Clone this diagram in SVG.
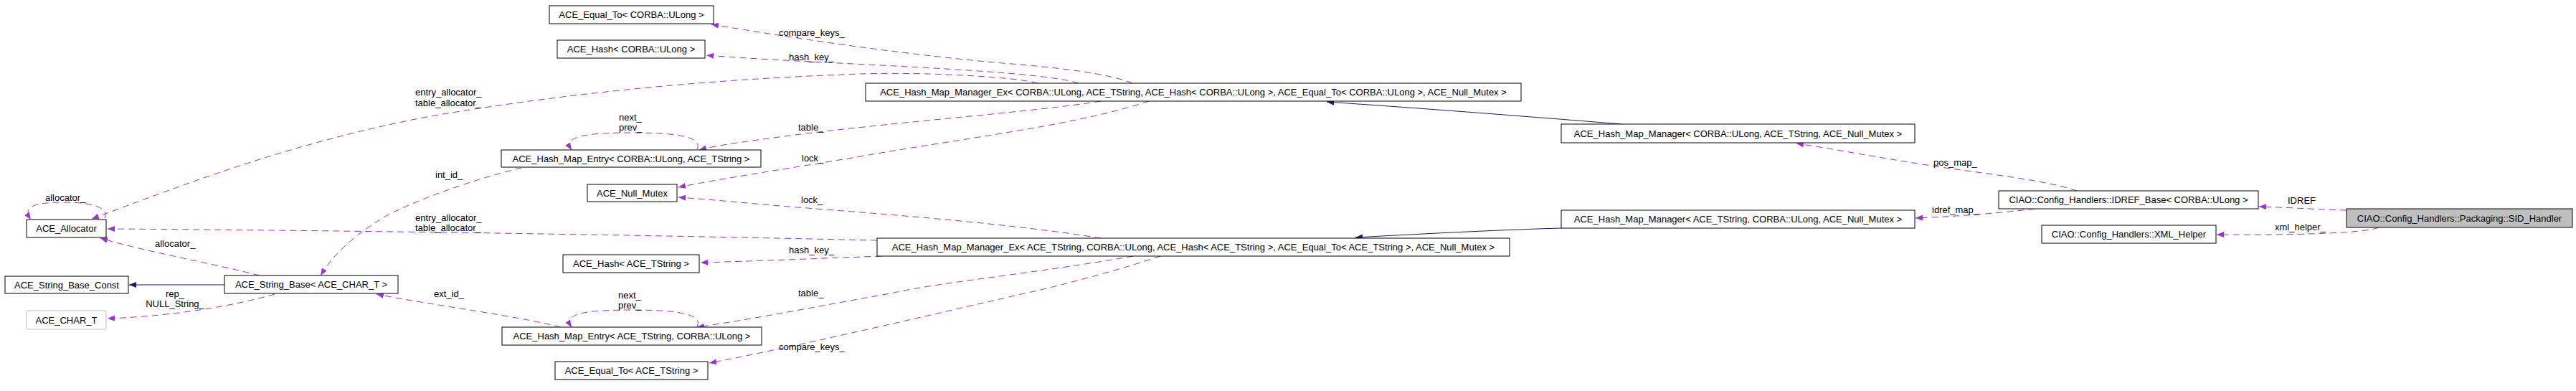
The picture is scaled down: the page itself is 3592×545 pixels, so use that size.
<svg xmlns="http://www.w3.org/2000/svg" width="3592" height="545" viewBox="0 0 3592 545">
<defs>
<style>
.n rect{fill:#fff;stroke:#000;stroke-width:1}
.n.gr rect{stroke:#bfbfbf}
.n.sel rect{fill:#bfbfbf}
text{font-family:"Liberation Sans",Arial,sans-serif;font-size:13px;fill:#000}
.n text{text-anchor:middle}
.e{fill:none;stroke:#9a32cd;stroke-width:1;stroke-dasharray:9,6;marker-end:url(#ap)}
.g{fill:none;stroke:#191970;stroke-width:1;marker-end:url(#an)}
</style>
<marker id="ap" markerWidth="12" markerHeight="10" refX="10" refY="4" orient="auto" markerUnits="userSpaceOnUse"><path d="M0,0 L10,4 L0,8 z" fill="#9a32cd"/></marker>
<marker id="an" markerWidth="12" markerHeight="10" refX="10" refY="4" orient="auto" markerUnits="userSpaceOnUse"><path d="M0,0 L10,4 L0,8 z" fill="#191970"/></marker>
</defs>
<rect width="3592" height="545" fill="#fff"/>
<g id="connectors">
<path class="e" d="M146,304 C152,290 130,282 90,282 C50,282 30,287 43,306"/>
<path class="e" d="M1447,116 C1420,108 1300,100 1200,103 C1000,110 800,128 600,162 C400,200 250,260 128,305"/>
<path class="e" d="M1504,116 C1440,96 1150,90 985,77"/>
<path class="e" d="M1579,116 C1540,100 1450,92 1398,88 C1250,75 1100,52 992,34"/>
<path class="e" d="M1535,141 C1450,155 1250,170 1109,188 C1050,196 1000,202 975,209"/>
<path class="e" d="M1602,141 C1500,175 1340,193 1200,218 C1080,238 1000,250 946,261"/>
<path class="e" d="M1535,332 C1400,310 1200,296 1100,288 C1040,283 990,278 946,275"/>
<path class="e" d="M1229,357 C1150,360 1050,364 977,366"/>
<path class="e" d="M1223,335 C1000,330 600,322 150,319"/>
<path class="e" d="M1580,357 C1450,380 1300,395 1247,408 C1150,425 1050,445 972,456"/>
<path class="e" d="M1618,357 C1550,380 1450,405 1424,410 C1250,450 1100,485 989,506"/>
<path class="e" d="M972,208 C980,192 950,185 882,185 C815,185 785,190 797,209"/>
<path class="e" d="M972,455 C980,439 950,432 882,432 C815,432 785,437 797,456"/>
<path class="e" d="M727,234 C680,245 600,270 540,300 C490,330 465,355 447,384"/>
<path class="e" d="M782,456 C720,440 600,425 525,410"/>
<path class="e" d="M362,384 C300,368 200,350 140,332"/>
<path class="e" d="M383,410 C330,425 250,440 150,444"/>
<path class="g" d="M313,397 L180,397"/>
<path class="g" d="M2261,173 C2200,168 2000,152 1850,142"/>
<path class="g" d="M2178,318 C2100,320 2000,325 1890,331"/>
<path class="e" d="M2896,266 C2850,250 2750,240 2700,232 C2620,220 2560,208 2505,200"/>
<path class="e" d="M2837,291 C2780,298 2720,302 2671,304"/>
<path class="e" d="M3272,293 C3230,292 3190,289 3150,288"/>
<path class="e" d="M3317,317 C3300,325 3200,328 3091,327"/>
<text x="63" y="280">allocator_</text>
<text x="579" y="133">entry_allocator_</text>
<text x="579" y="148">table_allocator_</text>
<text x="579" y="308">entry_allocator_</text>
<text x="579" y="322">table_allocator_</text>
<text x="607" y="248">int_id_</text>
<text x="216" y="344">allocator_</text>
<text x="244" y="414" text-anchor="middle">rep_</text>
<text x="244" y="428" text-anchor="middle">NULL_String_</text>
<text x="605" y="414">ext_id_</text>
<text x="863" y="168">next_</text>
<text x="863" y="182">prev_</text>
<text x="862" y="416">next_</text>
<text x="862" y="430">prev_</text>
<text x="1086" y="50">compare_keys_</text>
<text x="1100" y="84">hash_key_</text>
<text x="1113" y="182">table_</text>
<text x="1118" y="225">lock_</text>
<text x="1117" y="283">lock_</text>
<text x="1100" y="353">hash_key_</text>
<text x="1113" y="413">table_</text>
<text x="1086" y="488">compare_keys_</text>
<text x="2696" y="231">pos_map_</text>
<text x="2694" y="297">idref_map_</text>
<text x="3190" y="284">IDREF</text>
<text x="3172" y="321">xml_helper_</text>
</g>
<g id="n_equal_ulong" class="n"><rect x="766" y="8" width="229" height="25"/><text x="880.5" y="25">ACE_Equal_To&lt; CORBA::ULong &gt;</text></g>
<g id="n_hash_ulong" class="n"><rect x="777" y="56" width="206" height="25"/><text x="880" y="73">ACE_Hash&lt; CORBA::ULong &gt;</text></g>
<g id="n_hmmex_ulong" class="n"><rect x="1207" y="116" width="914" height="25"/><text x="1664" y="133">ACE_Hash_Map_Manager_Ex&lt; CORBA::ULong, ACE_TString, ACE_Hash&lt; CORBA::ULong &gt;, ACE_Equal_To&lt; CORBA::ULong &gt;, ACE_Null_Mutex &gt;</text></g>
<g id="n_entry_ulong" class="n"><rect x="699" y="209" width="362" height="24"/><text x="880" y="225.5">ACE_Hash_Map_Entry&lt; CORBA::ULong, ACE_TString &gt;</text></g>
<g id="n_null_mutex" class="n"><rect x="819" y="257" width="125" height="24"/><text x="881.5" y="273.5">ACE_Null_Mutex</text></g>
<g id="n_allocator" class="n"><rect x="37" y="306" width="111" height="25"/><text x="92.5" y="323">ACE_Allocator</text></g>
<g id="n_sbconst" class="n"><rect x="7" y="385" width="172" height="24"/><text x="93" y="401.5">ACE_String_Base_Const</text></g>
<g id="n_sbase" class="n"><rect x="313" y="384" width="242" height="25"/><text x="434" y="401">ACE_String_Base&lt; ACE_CHAR_T &gt;</text></g>
<g id="n_char_t" class="n gr"><rect x="37" y="433" width="111" height="26"/><text x="92.5" y="450.5">ACE_CHAR_T</text></g>
<g id="n_hash_tstr" class="n"><rect x="785" y="355" width="190" height="25"/><text x="880" y="372">ACE_Hash&lt; ACE_TString &gt;</text></g>
<g id="n_hmmex_tstr" class="n"><rect x="1223" y="332" width="882" height="25"/><text x="1664" y="349">ACE_Hash_Map_Manager_Ex&lt; ACE_TString, CORBA::ULong, ACE_Hash&lt; ACE_TString &gt;, ACE_Equal_To&lt; ACE_TString &gt;, ACE_Null_Mutex &gt;</text></g>
<g id="n_entry_tstr" class="n"><rect x="700" y="456" width="362" height="25"/><text x="881" y="473">ACE_Hash_Map_Entry&lt; ACE_TString, CORBA::ULong &gt;</text></g>
<g id="n_equal_tstr" class="n"><rect x="774" y="504" width="213" height="25"/><text x="880.5" y="521">ACE_Equal_To&lt; ACE_TString &gt;</text></g>
<g id="n_hmm_ulong" class="n"><rect x="2177" y="173" width="493" height="26"/><text x="2423.5" y="190.5">ACE_Hash_Map_Manager&lt; CORBA::ULong, ACE_TString, ACE_Null_Mutex &gt;</text></g>
<g id="n_hmm_tstr" class="n"><rect x="2177" y="293" width="493" height="25"/><text x="2423.5" y="310">ACE_Hash_Map_Manager&lt; ACE_TString, CORBA::ULong, ACE_Null_Mutex &gt;</text></g>
<g id="n_idref" class="n"><rect x="2787" y="266" width="362" height="25"/><text x="2968" y="283">CIAO::Config_Handlers::IDREF_Base&lt; CORBA::ULong &gt;</text></g>
<g id="n_sid" class="n sel"><rect x="3272" y="291" width="315" height="26"/><text x="3429.5" y="308.5">CIAO::Config_Handlers::Packaging::SID_Handler</text></g>
<g id="n_xml" class="n"><rect x="2847" y="314" width="243" height="25"/><text x="2968.5" y="331">CIAO::Config_Handlers::XML_Helper</text></g>
</svg>
